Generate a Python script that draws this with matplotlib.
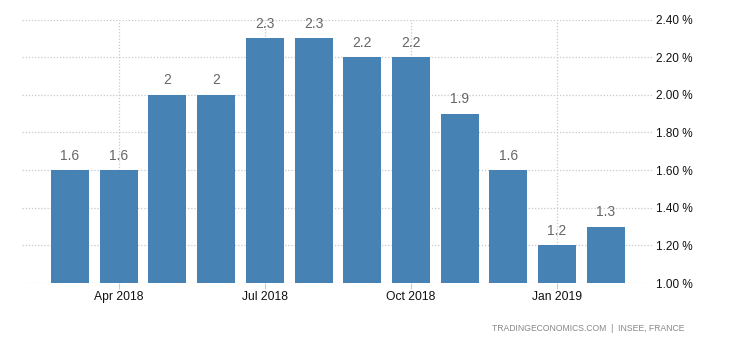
import matplotlib
matplotlib.use("Agg")
import matplotlib.pyplot as plt
import numpy as np

plt.rcParams["font.family"] = ["Liberation Sans", "DejaVu Sans"]

months = ["Mar 2018", "Apr 2018", "May 2018", "Jun 2018", "Jul 2018", "Aug 2018",
          "Sep 2018", "Oct 2018", "Nov 2018", "Dec 2018", "Jan 2019", "Feb 2019"]
values = [1.6, 1.6, 2.0, 2.0, 2.3, 2.3, 2.2, 2.2, 1.9, 1.6, 1.2, 1.3]
tick_months = ["Apr 2018", "Jul 2018", "Oct 2018", "Jan 2019"]
y_ticks = [1.0, 1.2, 1.4, 1.6, 1.8, 2.0, 2.2, 2.4]

fig = plt.figure(figsize=(7.3, 3.4), dpi=100)
ax = fig.add_axes([0.030, 0.1676, 0.863, 0.775])

x = np.arange(len(values))
ax.bar(x, [v - 1.0 for v in values], bottom=1.0, width=0.78, color="#4682b4", zorder=3)

for xi, v in zip(x, values):
    ax.text(xi, v + 0.04, f"{v:g}", ha="center", va="bottom",
            fontsize=10, color="#666666", zorder=4)

ax.set_xlim(-0.985, 11.945)
ax.set_ylim(1.0, 2.4)

tick_pos = [months.index(m) for m in tick_months]
ax.set_xticks(tick_pos)
ax.set_xticklabels(tick_months, fontsize=8.7, color="#111111")
ax.tick_params(axis="x", length=4, color="#cccccc", pad=2)

ax.yaxis.tick_right()
ax.set_yticks(y_ticks)
ax.set_yticklabels([f"{t:.2f} %" for t in y_ticks], fontsize=8.5, color="#111111")
ax.tick_params(axis="y", length=0, pad=3)

ax.grid(True, color="#c8c8c8", linestyle=(0, (1, 1.5)), linewidth=0.9, zorder=0)
for s in ax.spines.values():
    s.set_visible(False)

fig.text(0.938, 0.035, "TRADINGECONOMICS.COM  |  INSEE, FRANCE", ha="right",
         va="center", fontsize=6.2, color="#888888")

fig.savefig("out.png", dpi=100)
